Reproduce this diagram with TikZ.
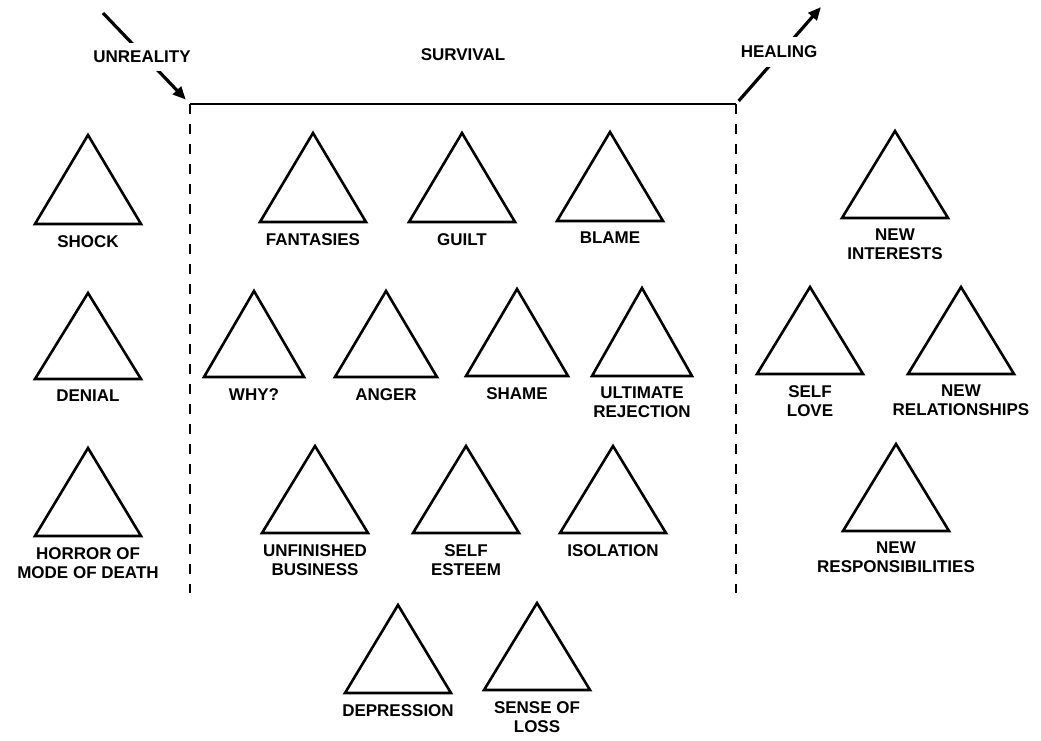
\documentclass[tikz,border=0pt]{standalone}
\usepackage{fontspec}
\setmainfont{Liberation Sans}
\usetikzlibrary{arrows.meta}

% one stage of grief: triangle (apex x, apex y, base y, half width) with its caption below
\newcommand\griefstage[6]{%
  \draw[tri] ({#2-#5},#4) -- (#2,#3) -- ({#2+#5},#4) -- cycle;
  \node[lbl] (#1) at (#2,{#4+11}) {#6};}

\begin{document}
\begin{tikzpicture}[x=1pt,y=-1pt,
  tri/.style={draw=black, line width=2.6pt, line join=miter},
  lbl/.style={font=\fontsize{17}{19}\selectfont\bfseries, align=center, inner sep=0pt, anchor=north},
  head/.style={font=\fontsize{17}{19}\selectfont\bfseries, inner xsep=1pt, inner ysep=8.5pt},
  phase/.style={line width=3.2pt, -{Triangle[length=13pt,width=11pt]}},
  border/.style={line width=2.6pt},
  side/.style={line width=2.8pt, dash pattern=on 10pt off 10pt}]
\useasboundingbox (0,0) rectangle (1041,740);

% frame around the survival phase
\coordinate (tl) at (190,104);
\coordinate (tr) at (736,104);
\coordinate (bl) at (190,593);
\coordinate (br) at (736,593);
\draw[border] (tl) -- (tr);
\draw[side] (tl) -- (bl);
\draw[side] (tr) -- (br);

% phase arrows and headings
\coordinate (inflow) at (103,13);
\coordinate (outflow) at (821,7);
\draw[phase, shorten >=6pt] (inflow) -- (tl);
\draw[phase, shorten <=4pt] (tr) -- (outflow);
\node[head, fill=white] (unreality) at (142,57) {UNREALITY};
\node[head, fill=white] (healing) at (779,52) {HEALING};
\node[head] (survival) at (463,55) {SURVIVAL};

% unreality
\griefstage{shock}{88}{135}{224}{53}{SHOCK}
\griefstage{denial}{88}{293}{379}{53}{DENIAL}
\griefstage{horror}{88}{448}{536}{53}{HORROR OF\\MODE OF DEATH}

% survival
\griefstage{fantasies}{313}{133}{222}{53}{FANTASIES}
\griefstage{guilt}{462}{133}{222}{53}{GUILT}
\griefstage{blame}{610}{132}{221}{53}{BLAME}
\griefstage{why}{254}{291}{377}{50}{WHY?}
\griefstage{anger}{386}{291}{377}{51}{ANGER}
\griefstage{shame}{517}{289}{376}{51}{SHAME}
\griefstage{rejection}{642}{288}{376}{50}{ULTIMATE\\REJECTION}
\griefstage{unfinished}{315}{446}{533}{53}{UNFINISHED\\BUSINESS}
\griefstage{esteem}{466}{446}{533}{53}{SELF\\ESTEEM}
\griefstage{isolation}{613}{446}{533}{53}{ISOLATION}
\griefstage{depression}{398}{605}{693}{53}{DEPRESSION}
\griefstage{loss}{537}{603}{690}{53}{SENSE OF\\LOSS}

% healing
\griefstage{interests}{895}{131}{218}{53}{NEW\\INTERESTS}
\griefstage{selflove}{810}{287}{374}{53}{SELF\\LOVE}
\griefstage{relations}{961}{287}{374}{53}{NEW\\RELATIONSHIPS}
\griefstage{duties}{896}{444}{531}{53}{NEW\\RESPONSIBILITIES}
\end{tikzpicture}
\end{document}
